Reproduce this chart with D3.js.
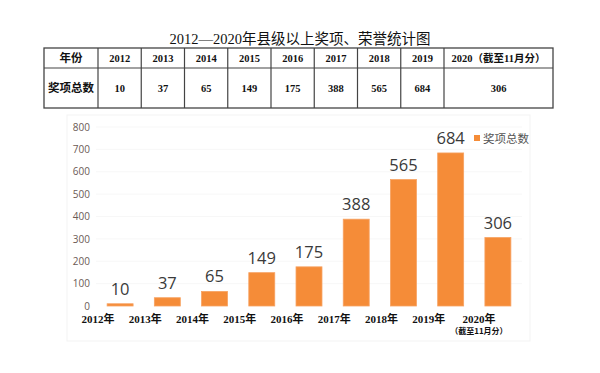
<!DOCTYPE html>
<html>
<head>
<meta charset="utf-8">
<script src="https://cdn.jsdelivr.net/npm/d3@7"></script>
<style>
  body { margin: 0; background: #fff; }
  svg { display: block; }
  .title { font-family: "Liberation Serif", "Noto Sans CJK SC", serif; font-size: 14.5px; fill: #111; }
  .cell { font-family: "Liberation Serif", "Noto Sans CJK SC", serif; font-size: 10.5px; font-weight: bold; fill: #111; }
  .cellzh { font-family: "Noto Sans CJK SC", sans-serif; font-size: 11.5px; font-weight: bold; fill: #111; }
  .ytick { font-family: "Open Sans", "Noto Sans", sans-serif; font-size: 10px; fill: #6b5a55; }
  .xlab { font-family: "Liberation Serif", "Noto Sans CJK SC", serif; font-size: 11px; font-weight: bold; fill: #111; }
  .xsub { font-family: "Noto Sans CJK SC", sans-serif; font-size: 8px; font-weight: bold; fill: #111; }
  .val { font-family: "Open Sans", "Noto Sans", sans-serif; font-size: 16.5px; fill: #3a3a3a; }
  .legend { font-family: "Noto Sans CJK SC", sans-serif; font-size: 11.5px; fill: #555; }
</style>
</head>
<body>
<script>
// data
const years = ["2012", "2013", "2014", "2015", "2016", "2017", "2018", "2019", "2020"];
const awards = [10, 37, 65, 149, 175, 388, 565, 684, 306];
const yTicks = [0, 100, 200, 300, 400, 500, 600, 700, 800];
const tableHead = ["年份", "2012", "2013", "2014", "2015", "2016", "2017", "2018", "2019", "2020（截至11月分）"];
const tableRow = ["奖项总数", "10", "37", "65", "149", "175", "388", "565", "684", "306"];
const seriesName = "奖项总数";
const title = "2012—2020年县级以上奖项、荣誉统计图";

const W = 600, H = 373;
const svg = d3.select("body").append("svg").attr("width", W).attr("height", H);

// title
svg.append("text").attr("class", "title")
    .attr("x", 300).attr("y", 44).attr("text-anchor", "middle")
    .text(title);

// table
const tbl = {left: 44, right: 553, top: 48, mid: 68, bottom: 108, first: 98, last: 444};
const colX = d3.scaleLinear().domain([1, 9]).range([tbl.first, tbl.last]);
const edges = [tbl.left].concat(d3.range(1, 10).map(i => colX(i))).concat([tbl.right]);
const tg = svg.append("g");
tg.append("rect")
    .attr("x", tbl.left).attr("y", tbl.top)
    .attr("width", tbl.right - tbl.left).attr("height", tbl.bottom - tbl.top)
    .attr("fill", "none").attr("stroke", "#444").attr("stroke-width", 1.3);
tg.append("line").attr("x1", tbl.left).attr("x2", tbl.right)
    .attr("y1", tbl.mid).attr("y2", tbl.mid).attr("stroke", "#444").attr("stroke-width", 1.2);
tg.selectAll(".vline").data(edges.slice(1, -1)).enter().append("line")
    .attr("x1", d => d).attr("x2", d => d)
    .attr("y1", tbl.top).attr("y2", tbl.bottom)
    .attr("stroke", "#444").attr("stroke-width", 1.2);
tg.selectAll(".h").data(tableHead).enter().append("text")
    .attr("class", (d, i) => i === 0 ? "cellzh" : "cell")
    .attr("x", (d, i) => (edges[i] + edges[i + 1]) / 2)
    .attr("y", (tbl.top + tbl.mid) / 2 + 4)
    .attr("text-anchor", "middle")
    .text(d => d);
tg.selectAll(".r").data(tableRow).enter().append("text")
    .attr("class", (d, i) => i === 0 ? "cellzh" : "cell")
    .attr("x", (d, i) => (edges[i] + edges[i + 1]) / 2)
    .attr("y", (tbl.mid + tbl.bottom) / 2 + 4)
    .attr("text-anchor", "middle")
    .text(d => d);

// chart frame (very faint)
svg.append("rect")
    .attr("x", 67).attr("y", 115).attr("width", 463).attr("height", 226)
    .attr("fill", "none").attr("stroke", "#f3f3f3");

const x = d3.scaleBand().domain(years).range([96.5, 521.5]).paddingInner(0.45).paddingOuter(0.225);
const y = d3.scaleLinear().domain([0, 800]).range([306, 127]);

// grid
svg.append("g").selectAll("line").data(yTicks.slice(1)).enter().append("line")
    .attr("x1", 96).attr("x2", 522)
    .attr("y1", d => y(d)).attr("y2", d => y(d))
    .attr("stroke", "#f7f7f7");

// y axis labels
const yAxis = svg.append("g").attr("transform", "translate(90,0)")
    .call(d3.axisLeft(y).tickValues(yTicks).tickSize(0).tickPadding(0));
yAxis.select(".domain").remove();
yAxis.selectAll("text").attr("class", "ytick").attr("fill", null).attr("font-size", null).attr("font-family", null);

// bars
svg.append("g").selectAll("rect").data(awards).enter().append("rect")
    .attr("x", (d, i) => x(years[i]))
    .attr("y", d => y(d))
    .attr("width", x.bandwidth())
    .attr("height", d => y(0) - y(d))
    .attr("fill", "#f58c38")
    .attr("stroke", "#f7a262").attr("stroke-width", 0.8);

// value labels
svg.append("g").selectAll("text").data(awards).enter().append("text")
    .attr("class", "val")
    .attr("x", (d, i) => x(years[i]) + x.bandwidth() / 2)
    .attr("y", d => y(d) - 9)
    .attr("text-anchor", "middle")
    .text(d => d);

// x labels (shifted left of the bars, as in the original)
const xShift = -22;
svg.append("g").selectAll("text").data(years).enter().append("text")
    .attr("class", "xlab")
    .attr("x", (d, i) => x(d) + x.bandwidth() / 2 + xShift + (i === years.length - 1 ? 3 : 0))
    .attr("y", 323)
    .attr("text-anchor", "middle")
    .text(d => d + "年");
svg.append("text").attr("class", "xsub")
    .attr("x", x("2020") + x.bandwidth() / 2 + xShift + 3)
    .attr("y", 334)
    .attr("text-anchor", "middle")
    .text("（截至11月分）");

// legend
svg.append("rect").attr("x", 474).attr("y", 135).attr("width", 6).attr("height", 6).attr("fill", "#f58c38");
svg.append("text").attr("class", "legend").attr("x", 483).attr("y", 142.5).text(seriesName);
</script>
</body>
</html>
